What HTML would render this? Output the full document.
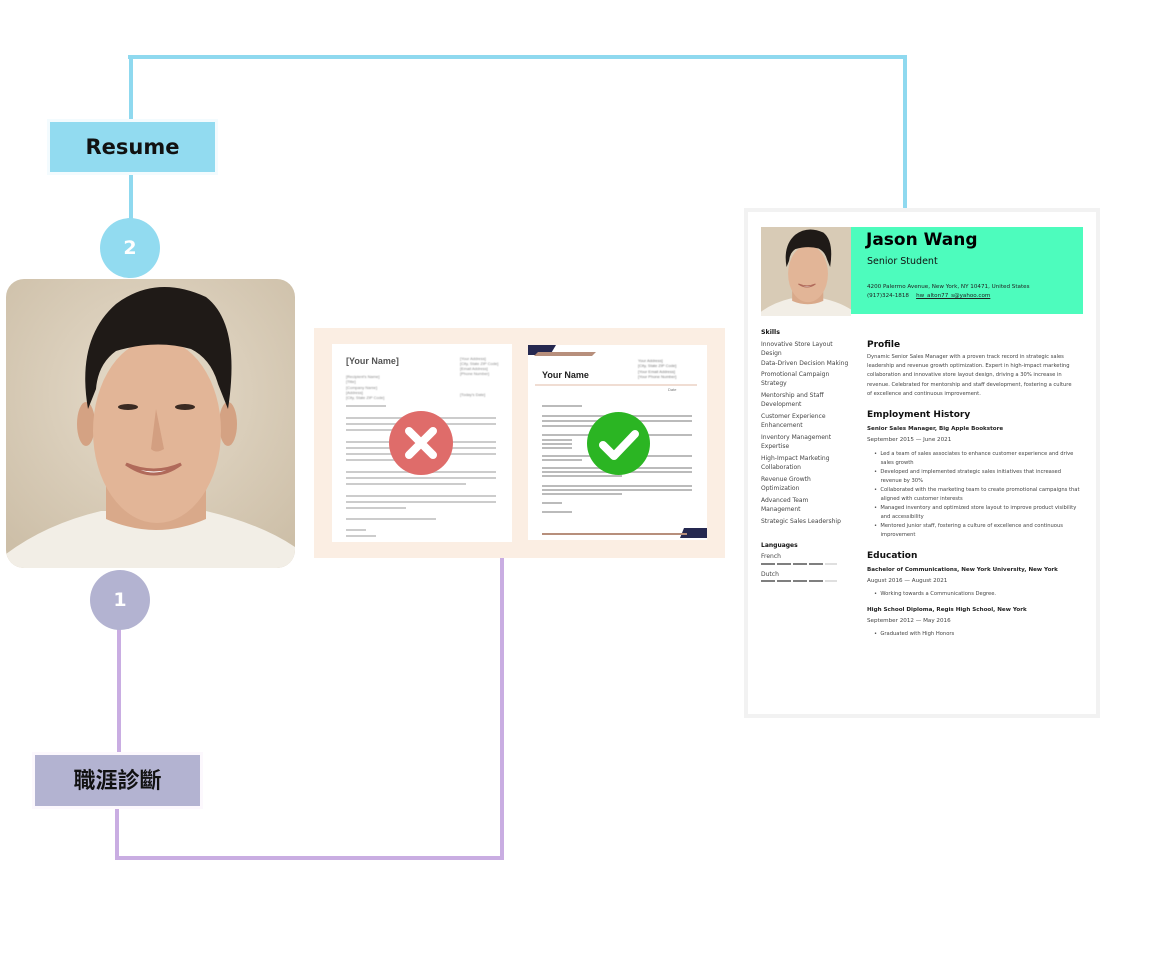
<!DOCTYPE html>
<html><head><meta charset="utf-8">
<style>
*{margin:0;padding:0;box-sizing:border-box}
body{width:1160px;height:954px;background:#fff;position:relative;overflow:hidden;font-family:"Liberation Sans","DejaVu Sans",sans-serif}
.a{position:absolute}
.ln{position:absolute}
.b{background:#8fd9ef}
.p{background:#c9ade2}
.t{position:absolute;white-space:nowrap;color:#333}
.blur{filter:blur(0.5px)}
</style></head><body>

<div class="ln b" style="left:128px;top:55px;width:779px;height:4px"></div>
<div class="ln b" style="left:129px;top:55px;width:4px;height:67px"></div>
<div class="ln b" style="left:129px;top:172px;width:4px;height:50px"></div>
<div class="ln b" style="left:903px;top:55px;width:4px;height:155px"></div>
<div class="a" style="left:50px;top:122px;width:165px;height:50px;background:#92dbf0;box-shadow:0 0 0 3px #f3fbfe;font:bold 21px 'DejaVu Sans',sans-serif;color:#111;text-align:center;line-height:50px">Resume</div>
<div class="a" style="left:100px;top:218px;width:60px;height:60px;border-radius:50%;background:#92dbf0;color:#fff;font:bold 19px 'DejaVu Sans',sans-serif;text-align:center;line-height:60px">2</div>

<div class="ln p" style="left:117px;top:628px;width:4px;height:128px"></div>
<div class="ln p" style="left:115px;top:806px;width:4px;height:54px"></div>
<div class="ln p" style="left:115px;top:856px;width:389px;height:4px"></div>
<div class="ln p" style="left:500px;top:556px;width:4px;height:304px"></div>
<div class="a" style="left:35px;top:755px;width:165px;height:51px;background:#b3b3d1;box-shadow:0 0 0 3px #fcf8fd;font:bold 22px 'Liberation Sans','Noto Sans CJK TC',sans-serif;color:#111;text-align:center;line-height:51px">職涯診斷</div>
<div class="a" style="left:90px;top:570px;width:60px;height:60px;border-radius:50%;background:#b3b3d1;color:#fff;font:bold 19px 'DejaVu Sans',sans-serif;text-align:center;line-height:60px">1</div>

<svg class="a" style="left:6px;top:279px" width="289" height="289" viewBox="0 0 289 289">
<defs><clipPath id="c"><rect width="289" height="289" rx="18"/></clipPath>
<radialGradient id="bg" cx="0.5" cy="0.4" r="0.7"><stop offset="0" stop-color="#e6dccb"/><stop offset="1" stop-color="#cdbfa8"/></radialGradient></defs>
<g clip-path="url(#c)">
<rect width="289" height="289" fill="url(#bg)"/>
<path d="M0 289 L0 275 Q40 245 95 232 L200 232 Q255 245 289 268 L289 289Z" fill="#f2eee6"/>
<path d="M100 195 L100 240 Q150 262 200 240 L200 195Z" fill="#d9a98a"/>
<ellipse cx="80" cy="145" rx="9" ry="22" fill="#d4a283"/>
<ellipse cx="222" cy="145" rx="9" ry="22" fill="#d4a283"/>
<ellipse cx="151" cy="152" rx="64" ry="92" fill="#e2b597"/>
<path d="M82 130 Q70 60 110 25 Q150 -5 200 18 Q235 45 222 130 L212 105 Q205 80 185 70 Q150 60 110 72 Q92 85 90 110Z" fill="#1f1a17"/>
<ellipse cx="122" cy="128" rx="10" ry="3" fill="#3a2a22"/>
<ellipse cx="179" cy="128" rx="10" ry="3" fill="#3a2a22"/>
<path d="M150 130 L145 170 Q150 175 158 170Z" fill="#d39f81"/>
<path d="M120 185 Q148 205 175 185 Q148 197 120 185Z" fill="#fff" stroke="#b06a5a" stroke-width="3"/>
</g></svg>

<div class="a" style="left:314px;top:328px;width:411px;height:230px;background:#fbeee3"></div>
<div class="a" style="left:332px;top:344px;width:180px;height:198px;background:#fff"></div>
<div class="t" style="left:346px;top:356px;font:bold 9px 'Liberation Sans';color:#555">[Your Name]</div>
<div class="t blur" style="left:460px;top:356px;font:4px/5px 'Liberation Sans';color:#888">[Your Address]<br>[City, State ZIP Code]<br>[Email Address]<br>[Phone Number]</div>
<div class="t blur" style="left:346px;top:374px;font:4px/5.3px 'Liberation Sans';color:#888">[Recipient's Name]<br>[Title]<br>[Company Name]<br>[Address]<br>[City, State ZIP Code]</div>
<div class="t blur" style="left:460px;top:392px;font:4px 'Liberation Sans';color:#888">[Today's Date]</div>
<svg class="a" style="left:346px;top:405px" width="160" height="135">
<g fill="#ccc">
<rect y="0" width="40" height="2"/>
<rect y="12" width="150" height="2"/><rect y="18" width="150" height="2"/><rect y="24" width="60" height="2"/>
<rect y="36" width="150" height="2"/><rect y="42" width="150" height="2"/><rect y="48" width="150" height="2"/><rect y="54" width="60" height="2"/>
<rect y="66" width="150" height="2"/><rect y="72" width="150" height="2"/><rect y="78" width="120" height="2"/>
<rect y="90" width="150" height="2"/><rect y="96" width="150" height="2"/><rect y="102" width="60" height="2"/>
<rect y="113" width="90" height="2"/><rect y="124" width="20" height="2"/><rect y="130" width="30" height="2"/>
</g></svg>
<div class="a" style="left:389px;top:411px;width:64px;height:64px;border-radius:50%;background:#df6c6a"></div>
<svg class="a" style="left:389px;top:411px" width="64" height="64"><path d="M20 20L44 44M44 20L20 44" stroke="#fff" stroke-width="8" stroke-linecap="round"/></svg>

<div class="a" style="left:528px;top:345px;width:179px;height:195px;background:#fff"></div>
<svg class="a" style="left:528px;top:345px" width="179" height="195">
<polygon points="0,0 28,0 22,10 0,10" fill="#252850"/>
<polygon points="10,7 68,7 64,11 6,11" fill="#b78f7c"/>
<rect x="7" y="39" width="162" height="2" fill="#f0ddd3"/>
<polygon points="156,183 179,183 179,193 152,193" fill="#252850"/>
<rect x="14" y="188" width="145" height="2" fill="#b78f7c"/>
<g fill="#bbb">
<rect x="14" y="60" width="40" height="2"/>
<rect x="14" y="70" width="150" height="2"/><rect x="14" y="75" width="150" height="2"/><rect x="14" y="80" width="60" height="2"/>
<rect x="14" y="89" width="150" height="2"/><rect x="14" y="94" width="30" height="2"/><rect x="14" y="98" width="30" height="2"/><rect x="14" y="102" width="30" height="2"/>
<rect x="14" y="110" width="150" height="2"/><rect x="14" y="114" width="40" height="2"/>
<rect x="14" y="122" width="150" height="2"/><rect x="14" y="126" width="150" height="2"/><rect x="14" y="130" width="80" height="2"/>
<rect x="14" y="140" width="150" height="2"/><rect x="14" y="144" width="150" height="2"/><rect x="14" y="148" width="80" height="2"/>
<rect x="14" y="157" width="20" height="2"/><rect x="14" y="166" width="30" height="2"/>
</g></svg>
<div class="t" style="left:542px;top:370px;font:bold 9px 'Liberation Sans';color:#222">Your Name</div>
<div class="t blur" style="left:638px;top:358px;font:4px/5.3px 'Liberation Sans';color:#777">Your Address]<br>[City, State ZIP Code]<br>[Your Email Address]<br>[Your Phone Number]</div>
<div class="t" style="left:668px;top:387px;font:4px 'Liberation Sans';color:#777">Date</div>
<div class="a" style="left:587px;top:412px;width:63px;height:63px;border-radius:50%;background:#2bb523"></div>
<svg class="a" style="left:587px;top:412px" width="63" height="63"><path d="M16 33L27 44L48 22" stroke="#fff" stroke-width="8" fill="none" stroke-linecap="round" stroke-linejoin="round"/></svg>

<div class="a" style="left:744px;top:208px;width:356px;height:510px;border:4px solid #f2f2f2;background:#fff"></div>
<svg class="a" style="left:761px;top:227px" width="90" height="89" viewBox="0 0 289 289" preserveAspectRatio="none">
<rect width="289" height="289" fill="#d8cbb6"/>
<path d="M0 289 L0 275 Q40 245 95 232 L200 232 Q255 245 289 268 L289 289Z" fill="#f2eee6"/>
<path d="M100 195 L100 240 Q150 262 200 240 L200 195Z" fill="#d9a98a"/>
<ellipse cx="151" cy="152" rx="64" ry="92" fill="#e2b597"/>
<path d="M82 130 Q70 60 110 25 Q150 -5 200 18 Q235 45 222 130 L212 105 Q205 80 185 70 Q150 60 110 72 Q92 85 90 110Z" fill="#1f1a17"/>
<path d="M120 185 Q148 205 175 185 Q148 197 120 185Z" fill="#fff" stroke="#b06a5a" stroke-width="3"/>
</svg>
<div class="a" style="left:851px;top:227px;width:232px;height:87px;background:#4dfcbd"></div>
<div class="t" style="left:866px;top:230px;font:bold 17px 'DejaVu Sans';color:#000">Jason Wang</div>
<div class="t" style="left:867px;top:256px;font:9.5px 'DejaVu Sans';color:#111">Senior Student</div>
<div class="t" style="left:867px;top:284px;font:5.6px 'DejaVu Sans';color:#222">4200 Palermo Avenue, New York, NY 10471, United States</div>
<div class="t" style="left:867px;top:293px;font:5.6px 'DejaVu Sans';color:#222">(917)324-1818 &nbsp;&nbsp; <u>hw_alton77_s@yahoo.com</u></div>

<div class="t" style="left:761px;top:329px;font:bold 6.3px 'DejaVu Sans';color:#111">Skills</div>
<div class="t" style="left:761px;top:340px;font:6px/9px 'DejaVu Sans';color:#444">Innovative Store Layout<br>Design<br><span style="line-height:12px">Data-Driven Decision Making</span><br>Promotional Campaign<br>Strategy<br><div style="height:3px"></div>Mentorship and Staff<br>Development<br><div style="height:3px"></div>Customer Experience<br>Enhancement<br><div style="height:3px"></div>Inventory Management<br>Expertise<br><div style="height:3px"></div>High-Impact Marketing<br>Collaboration<br><div style="height:3px"></div>Revenue Growth<br>Optimization<br><div style="height:3px"></div>Advanced Team<br>Management<br><div style="height:3px"></div>Strategic Sales Leadership</div>
<div class="t" style="left:761px;top:542px;font:bold 6px 'DejaVu Sans';color:#111">Languages</div>
<div class="t" style="left:761px;top:553px;font:6px 'DejaVu Sans';color:#444">French</div>
<div class="t" style="left:761px;top:571px;font:6px 'DejaVu Sans';color:#444">Dutch</div>
<svg class="a" style="left:760px;top:563px" width="80" height="20"><g stroke="#333" stroke-width="1.3"><path d="M1 1h14M17 1h14M33 1h14M49 1h14M1 18h14M17 18h14M33 18h14M49 18h14"/></g><g stroke="#ccc" stroke-width="1.3"><path d="M65 1h12M65 18h12"/></g></svg>

<div class="t" style="left:867px;top:340px;font:bold 9px 'DejaVu Sans';color:#111">Profile</div>
<div class="t" style="left:867px;top:353px;font:5.2px/9.2px 'DejaVu Sans';color:#444">Dynamic Senior Sales Manager with a proven track record in strategic sales<br>leadership and revenue growth optimization. Expert in high-impact marketing<br>collaboration and innovative store layout design, driving a 30% increase in<br>revenue. Celebrated for mentorship and staff development, fostering a culture<br>of excellence and continuous improvement.</div>
<div class="t" style="left:867px;top:410px;font:bold 9px 'DejaVu Sans';color:#111">Employment History</div>
<div class="t" style="left:867px;top:426px;font:bold 5.6px 'DejaVu Sans';color:#222">Senior Sales Manager, Big Apple Bookstore</div>
<div class="t" style="left:867px;top:437px;font:5.6px 'DejaVu Sans';color:#444">September 2015 — June 2021</div>
<div class="t" style="left:874px;top:450px;font:5.2px/9px 'DejaVu Sans';color:#444">•&nbsp; Led a team of sales associates to enhance customer experience and drive<br>&nbsp;&nbsp;&nbsp; sales growth<br>•&nbsp; Developed and implemented strategic sales initiatives that increased<br>&nbsp;&nbsp;&nbsp; revenue by 30%<br>•&nbsp; Collaborated with the marketing team to create promotional campaigns that<br>&nbsp;&nbsp;&nbsp; aligned with customer interests<br>•&nbsp; Managed inventory and optimized store layout to improve product visibility<br>&nbsp;&nbsp;&nbsp; and accessibility<br>•&nbsp; Mentored junior staff, fostering a culture of excellence and continuous<br>&nbsp;&nbsp;&nbsp; improvement</div>
<div class="t" style="left:867px;top:551px;font:bold 9px 'DejaVu Sans';color:#111">Education</div>
<div class="t" style="left:867px;top:567px;font:bold 5.6px 'DejaVu Sans';color:#222">Bachelor of Communications, New York University, New York</div>
<div class="t" style="left:867px;top:578px;font:5.6px 'DejaVu Sans';color:#444">August 2016 — August 2021</div>
<div class="t" style="left:874px;top:591px;font:5.2px 'DejaVu Sans';color:#444">•&nbsp; Working towards a Communications Degree.</div>
<div class="t" style="left:867px;top:607px;font:bold 5.6px 'DejaVu Sans';color:#222">High School Diploma, Regis High School, New York</div>
<div class="t" style="left:867px;top:618px;font:5.6px 'DejaVu Sans';color:#444">September 2012 — May 2016</div>
<div class="t" style="left:874px;top:631px;font:5.2px 'DejaVu Sans';color:#444">•&nbsp; Graduated with High Honors</div>
</body></html>
